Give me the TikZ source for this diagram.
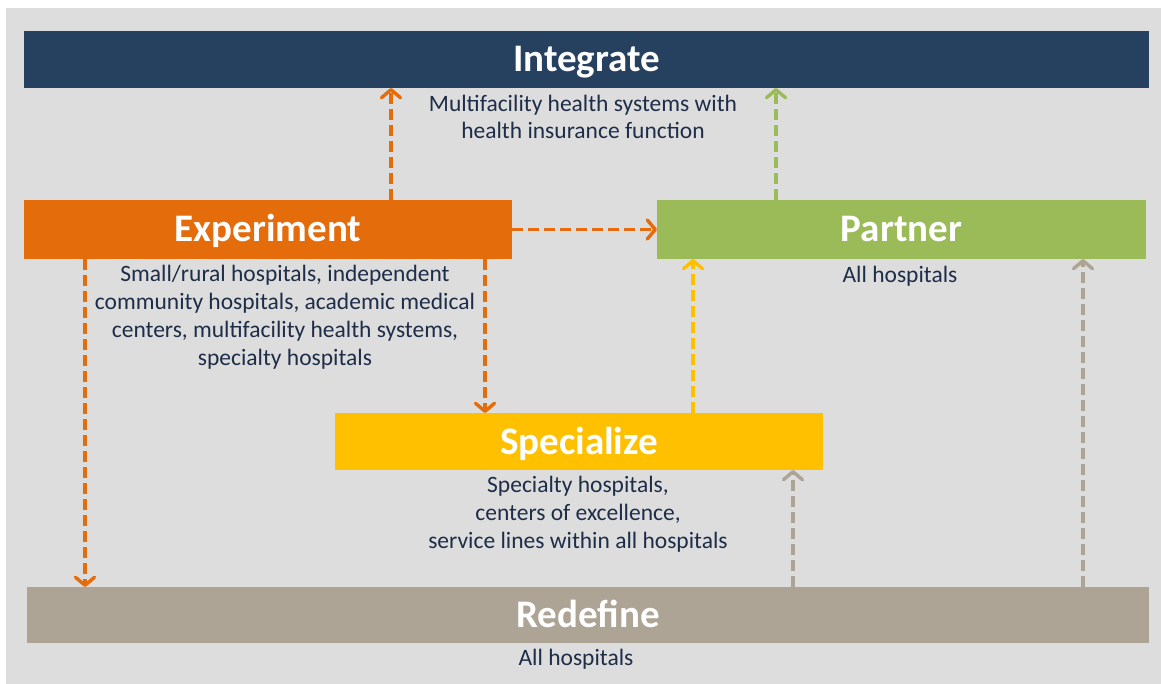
\documentclass[tikz,border=0pt]{standalone}
\usepackage{fontspec}
\setmainfont{Carlito}
\usetikzlibrary{arrows.meta}
\definecolor{bggray}{RGB}{221,221,221}
\definecolor{navy}{RGB}{38,64,96}
\definecolor{orng}{RGB}{228,108,10}
\definecolor{grn}{RGB}{155,187,89}
\definecolor{yel}{RGB}{255,192,0}
\definecolor{tan}{RGB}{173,164,149}
\definecolor{txt}{RGB}{30,45,72}
\tikzset{
  box/.style={rectangle, inner sep=0pt, outer sep=0pt, text=white,
    text height=25pt, text depth=0pt,
    font=\fontsize{39}{44}\selectfont\bfseries},
  desc/.style={align=center, text=txt, inner sep=0pt,
    font=\fontsize{23.5}{27.7}\selectfont},
  conn/.style={line width=3.4pt, dash pattern=on 11pt off 5pt,
    -{Straight Barb[length=8pt,width=19pt,round]}},
}
\begin{document}
\begin{tikzpicture}[x=1pt,y=-1pt]
\useasboundingbox (0,0) rectangle (1161,684);
\fill[bggray] (6,8) rectangle (1161,684);
% boxes
\node[box, fill=navy, minimum width=1125pt, minimum height=57pt] (int) at (586.5,59.5) {Integrate};
\node[box, fill=orng, minimum width=488pt, minimum height=59pt] (exp) at (268,229.5) {Experiment};
\node[box, fill=grn, minimum width=489pt, minimum height=59pt] (par) at (901.5,229.5) {Partner};
\node[box, fill=yel, minimum width=488pt, minimum height=57pt] (spe) at (579,441.5) {Specialize};
\node[box, fill=tan, minimum width=1122pt, minimum height=56pt] (red) at (588,615) {Redefine};
% descriptions (base anchor = baseline of last line)
\node[desc, anchor=base] (intd) at (583,139) {Multifacility health systems with\\health insurance function};
\node[desc, anchor=base] (expd) at (285,365) {Small/rural hospitals, independent\\community hospitals, academic medical\\centers, multifacility health systems,\\specialty hospitals};
\node[desc, anchor=base] (pard) at (900,283) {All hospitals};
\node[desc, anchor=base] (sped) at (578,548) {Specialty hospitals,\\centers of excellence,\\service lines within all hospitals};
\node[desc, anchor=base] (redd) at (576,665) {All hospitals};
% anchor points for connectors
\coordinate (e1) at ([xshift=367pt]exp.north west);
\coordinate (e2) at ([xshift=61pt]exp.south west);
\coordinate (e3) at ([xshift=461pt]exp.south west);
\coordinate (s1) at ([xshift=358pt]spe.north west);
\coordinate (p1) at ([xshift=119pt]par.north west);
\coordinate (r1) at ([xshift=766pt]red.north west);
\coordinate (r2) at ([xshift=1056pt]red.north west);
% connectors
\draw[conn, orng] (e1) -- (e1 |- int.south);
\draw[conn, orng] (exp.east) -- (par.west);
\draw[conn, orng] (e2) -- (e2 |- red.north);
\draw[conn, orng] (e3) -- (e3 |- spe.north);
\draw[conn, yel] (s1) -- (s1 |- par.south);
\draw[conn, grn] (p1) -- (p1 |- int.south);
\draw[conn, tan] (r1) -- (r1 |- spe.south);
\draw[conn, tan] (r2) -- (r2 |- par.south);
\end{tikzpicture}
\end{document}
